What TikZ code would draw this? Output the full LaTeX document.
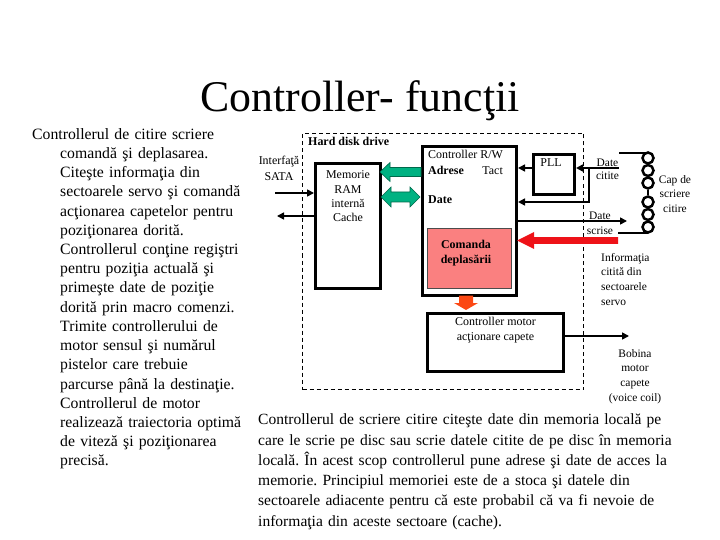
\documentclass[tikz,border=0pt]{standalone}
\usepackage{fontspec}
\setmainfont{Liberation Serif}
\usetikzlibrary{arrows.meta, positioning, calc}
\frenchspacing

\definecolor{arrowgreen}{RGB}{0,178,130}
\definecolor{arrowgreenedge}{RGB}{0,105,75}
\definecolor{boxpink}{RGB}{250,128,128}
\definecolor{arrowred}{RGB}{238,18,24}
\definecolor{arroworange}{RGB}{252,72,20}

\tikzset{
  blk/.style={draw, line width=3bp, inner sep=0pt, anchor=north west},
  wire/.style={line width=1.6bp},
  conn/.style={wire, -{Triangle[length=7bp,width=7bp]}},
  lbl/.style={inner sep=0pt, font=\fontsize{12}{14.5}\selectfont},
  sml/.style={inner sep=0pt, font=\fontsize{11.5}{14.7}\selectfont},
  para/.style={inner sep=0pt, anchor=north west, align=left, font=\fontsize{16}{19.3}\selectfont},
  coilring/.style={circle, draw, line width=2.5bp, minimum size=11bp, inner sep=0pt},
}

\begin{document}
\begin{tikzpicture}[x=1bp,y=-1bp]
\useasboundingbox (0,0) rectangle (720,540);

\node[anchor=base, inner sep=0pt, font=\fontsize{44}{50}\selectfont] (title) at (360,112) {Controller- funcţii};

\node[para, text width=230bp, font=\fontsize{15.8}{19.3}\selectfont] (leftpar) at (60,128) {\noindent\hspace*{-28bp}Controllerul de citire scriere\\
comandă şi deplasarea.\\
Citeşte informaţia din\\
sectoarele servo şi comandă\\
acţionarea capetelor pentru\\
poziţionarea dorită.\\
Controllerul conţine regiştri\\
pentru poziţia actuală şi\\
primeşte date de poziţie\\
dorită prin macro comenzi.\\
Trimite controllerului de\\
motor sensul şi numărul\\
pistelor care trebuie\\
parcurse până la destinaţie.\\
Controllerul de motor\\
realizează traiectoria optimă\\
de viteză şi poziţionarea\\
precisă.};

\node[para, text width=450bp, font=\fontsize{15.6}{20.3}\selectfont] (bottompar) at (258,414) {\noindent Controllerul de scriere citire citeşte date din memoria locală pe\\
care le scrie pe disc sau scrie datele citite de pe disc în memoria\\
locală. În acest scop controllerul pune adrese şi date de acces la\\
memorie. Principiul memoriei este de a stoca şi datele din\\
sectoarele adiacente pentru că este probabil că va fi nevoie de\\
informaţia din aceste sectoare (cache).};

% hard disk drive
\node[draw, line width=1bp, dash pattern=on 4bp off 3bp, inner sep=0pt, anchor=north west,
  minimum width=281bp, minimum height=256bp] (hdd) at (302,133) {};
\node[lbl, anchor=base west, font=\fontsize{12}{14.5}\selectfont\bfseries] (hddname) at (308,146) {Hard disk drive};

\node[lbl, anchor=north, align=center, font=\fontsize{12}{16}\selectfont] (sata) at (279,156) {Interfaţă\\SATA};

\node[blk, minimum width=65bp, minimum height=125bp] (ram) at (314,162) {};
\node[lbl, align=center, below=8.5bp of ram.north] (ramtext) {Memorie\\RAM\\internă\\Cache};

\node[blk, minimum width=94bp, minimum height=149bp] (ctrl) at (421,145) {};
\node[lbl, anchor=base west] (ctrlname) at (428,159) {Controller R/W};
\node[lbl, anchor=base west, font=\fontsize{12}{14.5}\selectfont\bfseries] (adr) at (428,175) {Adrese};
\node[lbl, anchor=base east] (tact) at (503,175) {Tact};
\node[lbl, anchor=base west, font=\fontsize{12}{14.5}\selectfont\bfseries] (date) at (428,204) {Date};

\node[draw=black!70, line width=1bp, fill=boxpink, inner sep=0pt, anchor=north west,
  minimum width=84bp, minimum height=60bp] (cmd) at (427,228) {};
\node[lbl, align=center, anchor=north, font=\fontsize{12}{15}\selectfont\bfseries] (cmdtext) at (466,240.5) {Comanda\\deplasării};

\node[blk, minimum width=41bp, minimum height=40bp] (pll) at (532,153) {};
\node[lbl, anchor=base] (plltext) at (551,167) {PLL};

\node[blk, minimum width=136bp, minimum height=58bp] (motor) at (426,312) {};
\node[lbl, align=center, below=5bp of motor.north, font=\fontsize{12}{15}\selectfont] (motortext) {Controller motor\\acţionare capete};

% cap de scriere citire
\foreach \i/\y in {1/158,2/170.5,3/183,4/202,5/214.5,6/227}
  \node[coilring] (coil\i) at (648,\y) {};
\draw[wire] (coil3.south) -- (coil4.north);

\node[sml, anchor=north, align=center, font=\fontsize{11.5}{13}\selectfont] (datecit) at (607.5,158.4) {Date\\citite};
\node[sml, anchor=north, align=center, font=\fontsize{11.5}{15}\selectfont] (datescr) at (600,211.4) {Date\\scrise};
\node[sml, anchor=north, align=center, font=\fontsize{11.5}{14.5}\selectfont] (cap) at (675,175) {Cap de\\scriere\\citire};
\node[sml, anchor=north west, align=left] (servo) at (601,253) {Informaţia\\citită din\\sectoarele\\servo};
\node[sml, anchor=north, align=center] (bobina) at (635,349) {Bobina\\motor\\capete\\(voice coil)};

% conexiuni
\coordinate (satain) at (275,193);
\coordinate (sataout) at (277,216);
\draw[conn] (satain) -- (satain -| ram.west);
\draw[conn] (sataout -| ram.west) -- (sataout);

\coordinate (citin) at (619,168);
\coordinate (branch) at (589,168);
\coordinate (fb) at (589,202);
\draw[conn] (citin) -- (citin -| pll.east);
\draw[conn] (pll.west |- citin) -- (citin -| ctrl.east);
\draw[conn] (branch) -- (fb) -- (fb -| ctrl.east);

\coordinate (captop) at (619,153);
\coordinate (capbot) at (618,233);
\draw[wire] (captop) -- (captop -| coil1.center);
\draw[wire] (capbot) -- (capbot -| coil6.center);

\coordinate (scrout) at (627,221);
\draw[conn] (scrout -| ctrl.east) -- (scrout);

\coordinate (coilout) at (629,336);
\draw[conn] (motor.east |- coilout) -- (coilout);

% sageti mari
\filldraw[fill=arrowgreen, draw=arrowgreenedge, line width=0.6bp]
  (380,172) -- (390,162.5) -- (390,167.5) -- (421,167.5) -- (421,176.5) -- (390,176.5) -- (390,181.5) -- cycle;
\filldraw[fill=arrowgreen, draw=arrowgreenedge, line width=0.6bp]
  (381,197) -- (391,187) -- (391,192) -- (410,192) -- (410,187) -- (420,197) -- (410,207) -- (410,202) -- (391,202) -- (391,207) -- cycle;
\fill[arrowred] (517,240.5) -- (534,232) -- (534,237.2) -- (618,237.2) -- (618,243.8) -- (534,243.8) -- (534,249) -- cycle;
\fill[arroworange] (459,295.5) -- (473,295.5) -- (473,303) -- (478,303) -- (466,310) -- (454,303) -- (459,303) -- cycle;
\end{tikzpicture}
\end{document}
